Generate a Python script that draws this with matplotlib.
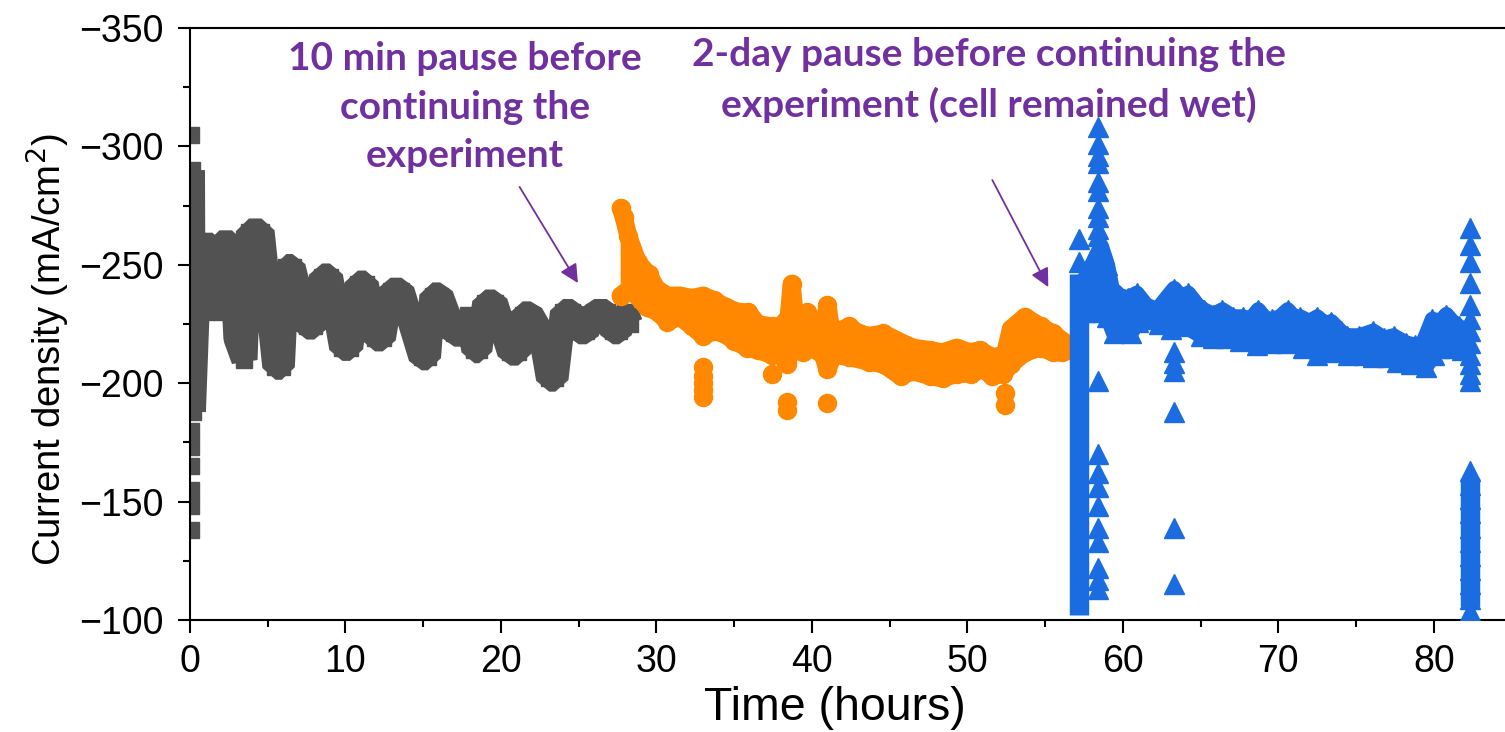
import numpy as np
import matplotlib.pyplot as plt
from matplotlib.ticker import MultipleLocator

plt.rcParams['font.family'] = ['Liberation Sans', 'DejaVu Sans']

# ---- data (time in hours, current density in mA/cm2) ----
# segment 1 (grey squares): sawtooth turning points
gray_t = [0.12, 0.18,
          0.45, 0.75, 1.45, 1.7,
          1.9, 2.7, 3.0, 3.5,
          3.8, 4.6, 5.5, 5.9,
          6.2, 6.6, 7.5, 8.0,
          8.5, 9.0, 9.8, 10.3,
          10.8, 11.3, 11.9, 12.4,
          12.9, 13.6, 14.9, 15.3,
          15.6, 16.1, 17.0, 17.4,
          17.9, 18.3, 18.6, 19.0, 19.6,
          20.6, 21.1, 21.4, 21.9,
          22.6, 23.1, 23.5, 24.0, 24.6,
          25.0, 25.5, 26.0, 26.8, 27.2, 27.6, 28.0, 28.3]
gray_j = [-290, -188,
          -236, -258, -258, -230,
          -259, -259, -219, -210,
          -264, -264, -207, -207,
          -249, -249, -224, -224,
          -245, -245, -215, -215,
          -242, -242, -219, -219,
          -239, -239, -211, -211,
          -237, -237, -221, -221,
          -229, -214, -214, -234, -234,
          -213, -213, -229, -229,
          -221, -202, -202, -230, -230,
          -222, -222, -230, -230, -222, -222, -230, -225]
gray_pt_t = [0.1, 0.1, 0.1, 0.1, 0.1, 0.1, 0.1]
gray_pt_j = [-305, -180, -173, -165, -155, -148, -138]

# segment 2 (orange circles): upper / lower edge of the band + stray points
orange_up_t = [27.7, 27.9, 28.2, 28.8, 29.5, 30.0, 30.7, 31.5, 32.3, 33.0,
               33.7, 34.5, 35.3, 35.9, 36.5, 37.4, 38.0, 38.5, 38.7, 38.9,
               39.3, 39.7, 40.3, 40.8, 41.0, 41.2, 41.7, 42.4, 43.0, 43.7,
               44.6, 45.5, 46.5, 47.6, 48.4, 49.3, 50.2, 50.8, 51.6, 52.4,
               52.8, 53.7, 54.7, 55.5, 56.1, 56.5]
orange_up_j = [-274, -270, -262, -251, -246, -240, -237, -237, -236, -237,
               -235, -232, -230, -230, -225, -224, -224, -228, -242, -228,
               -227, -230, -224, -225, -233, -224, -222, -224, -221, -220,
               -221, -218, -215, -214, -213, -215, -213, -214, -211, -212,
               -223, -228, -224, -221, -218, -216]
orange_lo_t = [27.7, 28.3, 29.4, 30.1, 30.7, 31.5, 32.3, 33.0, 33.7, 34.3,
               35.0, 35.8, 36.5, 37.4, 38.0, 38.4, 38.7, 39.4, 40.0, 40.7,
               41.0, 41.4, 42.4, 43.7, 44.6, 45.7, 46.5, 47.6, 48.4, 49.3,
               50.2, 51.0, 51.6, 52.3, 52.8, 53.7, 54.7, 55.5, 56.1, 56.5]
orange_lo_j = [-237, -240, -232, -230, -226, -228, -224, -220, -222, -221,
               -218, -215, -214, -212, -212, -208, -215, -213, -215, -212,
               -206, -212, -211, -209, -208, -203, -205, -203, -202, -204,
               -204, -206, -203, -204, -208, -213, -215, -213, -213, -214]
orange_pt_t = [33.0, 33.0, 33.0, 33.0, 33.0, 37.4, 38.4, 38.4, 41.0, 52.4, 52.4]
orange_pt_j = [-194, -197, -200, -203, -207, -204, -192, -188.5, -191.6, -196, -191]

# segment 3 (blue triangles)
blue_up_t = [57.6, 58.0, 58.6, 59.0, 59.3, 59.8, 60.3, 60.9, 61.5, 62.2,
             62.8, 63.3, 63.8, 64.2, 64.8, 65.2, 65.8, 66.4, 67.1, 67.7,
             68.2, 68.7, 69.2, 69.6, 70.1, 70.6, 71.0, 71.4, 72.0, 72.5,
             73.0, 73.4, 74.0, 74.4, 75.2, 76.1, 76.8, 77.4, 78.2, 78.8,
             79.1, 79.6, 79.9, 80.4, 80.8, 81.2, 81.6, 82.0]
blue_up_j = [-245, -250, -258, -250, -240, -237, -236, -238, -233, -231,
             -236, -240, -236, -238, -233, -231, -229, -231, -228, -228,
             -227, -231, -227, -227, -228, -231, -228, -228, -226, -228,
             -225, -226, -222, -220, -220, -222, -219, -220, -217, -216,
             -214, -222, -227, -226, -229, -226, -224, -222]
blue_lo_t = [57.6, 58.4, 59.0, 59.4, 60.5, 61.0, 61.6, 62.3, 63.1, 64.0,
             65.0, 65.8, 66.6, 67.5, 68.6, 69.5, 70.5, 71.6, 72.5, 73.5,
             74.5, 75.5, 76.1, 77.0, 77.6, 78.5, 79.5, 80.0, 80.3, 81.2,
             81.8, 82.0]
blue_lo_j = [-230, -230, -228, -221, -221, -226, -227, -225, -223, -224,
             -220, -219, -219, -218, -216, -217, -217, -215, -212, -213,
             -212, -212, -211, -211, -209, -208, -207, -212, -215, -215,
             -214, -216]
# solid vertical runs of triangles
blue_col_t = [57.2, 82.3]
blue_col_lo = [-102, -106]
blue_col_hi = [-246, -160]
blue_pt_t = [57.2, 57.2,
             58.4, 58.4, 58.4, 58.4, 58.4, 58.4, 58.4, 58.4, 58.4, 58.4, 58.4,
             58.4, 58.4, 58.4, 58.4, 58.4, 58.4, 58.4, 58.4, 58.4, 58.4,
             63.3, 63.3, 63.3, 63.3, 63.3, 63.3,
             82.3, 82.3, 82.3, 82.3, 82.3, 82.3, 82.3, 82.3, 82.3, 82.3, 82.3, 82.3,
             82.3, 82.3, 82.3, 82.3, 82.3, 82.3, 82.3, 82.3, 82.3, 82.3, 82.3]
blue_pt_j = [-251, -261,
             -308, -301, -296, -293, -285, -281, -274, -270, -265, -262, -258,
             -201, -170, -162, -156, -148, -139, -133, -122, -117, -113,
             -213, -208.5, -205, -188, -139, -115,
             -265.5, -258.4, -251.2, -242.3, -233, -227, -222, -217, -212, -208, -204, -201,
             -163, -157, -151, -145, -139, -133, -127, -121, -115, -109, -104]

GRAY = '#525252'
ORANGE = '#FF8800'
BLUE = '#1B6CE0'
PURPLE = '#7030A0'

fig = plt.figure(figsize=(15.05, 7.32), dpi=100)
ax = fig.add_axes([0.1262, 0.153, 0.8738, 0.8087])

# grey sawtooth
ax.plot(gray_t, gray_j, color=GRAY, lw=19, marker='s', ms=12,
        solid_joinstyle='bevel', solid_capstyle='butt', zorder=2)
ax.plot(gray_pt_t, gray_pt_j, ls='none', color=GRAY, marker='s', ms=12, zorder=2)

# orange band
ax.fill(orange_up_t + orange_lo_t[::-1], orange_up_j + orange_lo_j[::-1],
        color=ORANGE, lw=0, zorder=3)
for tt, jj in [(orange_up_t, orange_up_j), (orange_lo_t, orange_lo_j)]:
    ax.plot(tt, jj, color=ORANGE, lw=13, marker='o', ms=13,
            solid_joinstyle='round', solid_capstyle='round', zorder=3)
ax.plot(orange_pt_t, orange_pt_j, ls='none', color=ORANGE, marker='o', ms=13, zorder=3)

# blue band
ax.fill(blue_up_t + blue_lo_t[::-1], blue_up_j + blue_lo_j[::-1],
        color=BLUE, lw=0, zorder=4)
for tt, jj in [(blue_up_t, blue_up_j), (blue_lo_t, blue_lo_j)]:
    ax.plot(tt, jj, color=BLUE, lw=11, marker='^', ms=15,
            solid_joinstyle='round', zorder=4)
ax.vlines(blue_col_t, blue_col_lo, blue_col_hi, color=BLUE, lw=14, zorder=4)
ax.plot(blue_pt_t, blue_pt_j, ls='none', color=BLUE, marker='^', ms=15, zorder=4)

ax.set_xlim(0, 84.57)
ax.set_ylim(-100, -350)
ax.xaxis.set_major_locator(MultipleLocator(10))
ax.xaxis.set_minor_locator(MultipleLocator(5))
ax.yaxis.set_major_locator(MultipleLocator(50))
ax.yaxis.set_minor_locator(MultipleLocator(25))
ax.tick_params(which='both', direction='out', width=1.5, top=False, right=False)
ax.tick_params(which='major', length=9, labelsize=27)
ax.tick_params(which='minor', length=5)
ax.tick_params(axis='x', pad=8)
ax.tick_params(axis='y', pad=10)
for s in ['left', 'bottom', 'top']:
    ax.spines[s].set_linewidth(1.5)
ax.spines['right'].set_visible(False)

ax.set_xlabel('Time (hours)', fontsize=33.5)
ax.xaxis.set_label_coords(0.4905, -0.112)
ax.set_ylabel('Current density (mA/cm$^2$)', fontsize=27.5)
ax.yaxis.set_label_coords(-0.0897, 0.456)

note_font = dict(family=['Lato', 'DejaVu Sans'], weight='bold', color=PURPLE,
                 fontsize=28, ha='center', va='center', linespacing=1.47)
ax.text(17.7, -316.6, '10 min pause before\ncontinuing the\nexperiment', **note_font)
ax.text(51.4, -328.0, '2-day pause before continuing the\nexperiment (cell remained wet)',
        **note_font)
arrow = dict(arrowstyle='-|>', color=PURPLE, lw=1.3, mutation_scale=28,
             shrinkA=0, shrinkB=0)
ax.annotate('', xy=(24.95, -242.3), xytext=(21.2, -282.9), arrowprops=arrow)
ax.annotate('', xy=(55.2, -240.6), xytext=(51.6, -285.8), arrowprops=arrow)

fig.savefig('out.png', dpi=100)
